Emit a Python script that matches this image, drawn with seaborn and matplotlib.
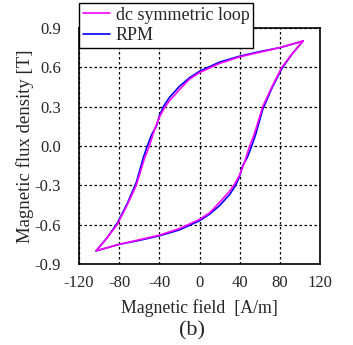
import matplotlib
matplotlib.use("Agg")
import matplotlib.pyplot as plt
import numpy as np
import pandas as pd
import seaborn as sns

# descending (upper) branch, tip to tip; ascending branch is its mirror
dc_h = [103, 80, 60, 40, 20, 0, -10, -20, -30, -35, -40, -45, -50, -55, -63, -72, -82, -92, -103]
dc_b = [0.80, 0.75, 0.715, 0.68, 0.63, 0.56, 0.51, 0.43, 0.345, 0.29, 0.22, 0.12, 0.0, -0.10,
        -0.30, -0.45, -0.60, -0.70, -0.80]

rpm_h = [103, 80, 60, 40, 20, 0, -10, -20, -30, -36, -40, -43, -46, -48, -52, -56, -63, -72,
         -82, -92, -103]
rpm_b = [0.80, 0.75, 0.72, 0.685, 0.64, 0.57, 0.52, 0.455, 0.37, 0.30, 0.23, 0.15, 0.11, 0.08,
         0.0, -0.09, -0.28, -0.44, -0.59, -0.70, -0.80]

x_ticks = [-120, -80, -40, 0, 40, 80, 120]
y_ticks = [-0.9, -0.6, -0.3, 0.0, 0.3, 0.6, 0.9]


def closed_loop(h, b, name):
    h = np.asarray(h, dtype=float)
    b = np.asarray(b, dtype=float)
    hh = np.concatenate([h, -h[1:]])
    bb = np.concatenate([b, -b[1:]])
    return pd.DataFrame({"H": hh, "B": bb, "curve": name, "order": np.arange(len(hh))})


df = pd.concat([closed_loop(rpm_h, rpm_b, "RPM"),
                closed_loop(dc_h, dc_b, "dc symmetric loop")], ignore_index=True)

sns.set_style("white")
plt.rcParams["font.family"] = ["Liberation Serif", "DejaVu Serif"]
plt.rcParams["axes.unicode_minus"] = False

fig, ax = plt.subplots(figsize=(3.53, 3.45), dpi=100)
fig.subplots_adjust(left=79 / 353, right=320 / 353, top=1 - 28 / 345, bottom=1 - 264 / 345)

palette = {"dc symmetric loop": "#ff00ff", "RPM": "#0000ff"}
for name in ["RPM", "dc symmetric loop"]:
    sns.lineplot(data=df[df["curve"] == name], x="H", y="B", sort=False, estimator=None,
                 color=palette[name], lw=1.2, label=name, ax=ax)

ax.set_xlim(-120, 120)
ax.set_ylim(-0.9, 0.9)
ax.set_xticks(x_ticks)
ax.set_yticks(y_ticks)
ax.set_yticklabels([f"{v:.1f}" for v in y_ticks])
ax.tick_params(length=0, labelsize=12)
ax.tick_params(axis="y", pad=13)
ax.tick_params(axis="x", pad=8)
ax.grid(True, color="black", linestyle=(0, (2, 2)), lw=0.9)
for s in ax.spines.values():
    s.set_color("black")
    s.set_linewidth(1.2)

ax.set_xlabel("Magnetic field  [A/m]", fontsize=12.75, labelpad=6)
ax.set_ylabel("Magnetic flux density [T]", fontsize=13.5, labelpad=0)

handles, labels = ax.get_legend_handles_labels()
order = [labels.index("dc symmetric loop"), labels.index("RPM")]
leg = ax.legend([handles[i] for i in order], [labels[i] for i in order],
                loc="upper left", bbox_to_anchor=(0.0, 1.106), fontsize=13,
                frameon=True, fancybox=False, framealpha=1, borderaxespad=0,
                handlelength=1.5, handletextpad=0.35, borderpad=0.2, labelspacing=0.2)
leg.get_frame().set_edgecolor("black")
leg.get_frame().set_linewidth(1.0)

fig.text(192 / 353, 1 - 331 / 345, "(b)", ha="center", va="center", fontsize=16)

fig.savefig("out.png", dpi=100)
